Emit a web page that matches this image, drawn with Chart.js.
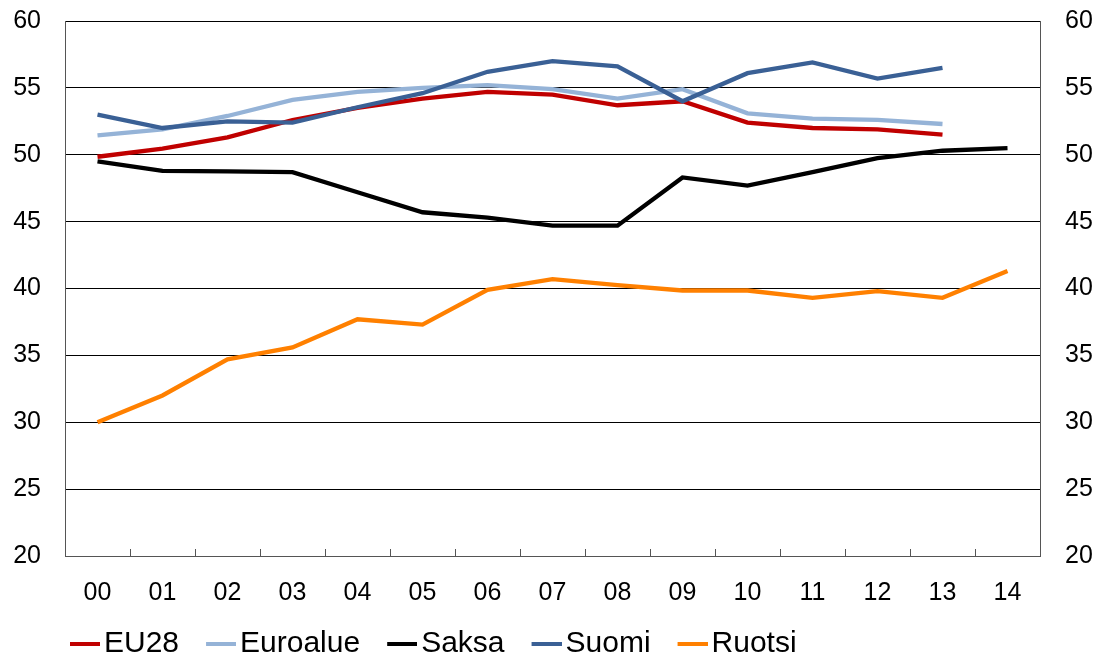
<!DOCTYPE html>
<html>
<head>
<meta charset="utf-8">
<script src="https://cdn.jsdelivr.net/npm/chart.js@4/dist/chart.umd.min.js"></script>
<style>
html,body{margin:0;padding:0;background:#fff;overflow:hidden;}
#wrap{width:1100px;height:656px;position:relative;}
</style>
</head>
<body>
<div id="wrap"><canvas id="c" width="1100" height="656"></canvas></div>
<script>
const categories = ["00","01","02","03","04","05","06","07","08","09","10","11","12","13","14"];
const eu28     = [49.85,50.45,51.3,52.6,53.5,54.2,54.7,54.5,53.7,54.0,52.4,52.0,51.9,51.5,null];
const euroalue = [51.45,51.9,52.9,54.1,54.7,55.0,55.2,54.9,54.2,54.9,53.1,52.7,52.6,52.3,null];
const saksa    = [49.5,48.8,48.75,48.7,47.2,45.7,45.3,44.7,44.7,48.3,47.7,48.7,49.75,50.3,50.5];
const suomi    = [53.0,52.0,52.5,52.4,53.55,54.6,56.2,57.0,56.6,54.0,56.1,56.9,55.7,56.5,null];
const ruotsi   = [30.0,32.0,34.7,35.6,37.7,37.3,39.9,40.7,40.25,39.85,39.85,39.3,39.8,39.3,41.3];
const yTicks   = [20,25,30,35,40,45,50,55,60];

const FONT = "'Liberation Sans', Arial, sans-serif";

function swatch(color) {
  const c = document.createElement('canvas');
  c.width = 60; c.height = 4;
  const g = c.getContext('2d');
  g.fillStyle = color;
  g.fillRect(30, 0, 30, 4);
  return c;
}

const innerTicks = {
  id: 'innerTicks',
  afterLayout(chart) { if (chart.legend) chart.legend.left = 43; },
  afterDatasetsDraw(chart) {
    const x = chart.scales.x, ctx = chart.ctx;
    const step = x.getPixelForValue(1) - x.getPixelForValue(0);
    const bottom = chart.chartArea.bottom;
    ctx.save();
    ctx.strokeStyle = '#555';
    ctx.lineWidth = 1;
    ctx.beginPath();
    for (let i = 1; i < categories.length; i++) {
      const px = Math.round(x.getPixelForValue(i) - step / 2) + 0.5;
      ctx.moveTo(px, bottom - 7);
      ctx.lineTo(px, bottom);
    }
    ctx.stroke();
    ctx.restore();
  }
};

function ds(label, data, color, order) {
  return { label, data, borderColor: color, backgroundColor: color, borderWidth: 4.3,
           pointRadius: 0, pointHoverRadius: 0, pointStyle: swatch(color), order,
           tension: 0, fill: false, spanGaps: false };
}

function noPad(s) { s.paddingTop = 0; s.paddingBottom = 0; }

new Chart(document.getElementById('c'), {
  type: 'line',
  data: {
    labels: categories,
    datasets: [
      ds('EU28', eu28, '#C00000', 5),
      ds('Euroalue', euroalue, '#95B3D7', 4),
      ds('Saksa', saksa, '#000000', 3),
      ds('Suomi', suomi, '#3A6095', 2),
      ds('Ruotsi', ruotsi, '#FF8000', 1)
    ]
  },
  options: {
    responsive: false,
    animation: false,
    events: [],
    layout: { padding: { left: 0, right: 0, top: 21, bottom: -13 } },
    plugins: {
      tooltip: { enabled: false },
      legend: {
        position: 'bottom',
        align: 'start',
        labels: {
          usePointStyle: true,
          pointStyleWidth: 38,
          padding: 8,
          color: '#000',
          font: { family: FONT, size: 30 },
          sort: (a, b) => a.datasetIndex - b.datasetIndex
        }
      }
    },
    scales: {
      x: {
        offset: true,
        afterFit(s) { s.height = 65; s.paddingLeft = 0; s.paddingRight = 0; },
        grid: { display: false, drawTicks: false },
        border: { display: true, color: '#555', width: 1 },
        ticks: { color: '#000', padding: 22.5, font: { family: FONT, size: 25 }, maxRotation: 0, autoSkip: false }
      },
      y: {
        position: 'left',
        min: 20, max: 60,
        afterBuildTicks(s) { s.ticks = yTicks.map(v => ({ value: v })); },
        afterFit(s) { s.width = 65; noPad(s); },
        grid: { color: '#000', lineWidth: 1, drawTicks: false },
        border: { display: true, color: '#555', width: 1 },
        ticks: { color: '#000', padding: 24, font: { family: FONT, size: 25 } }
      },
      y2: {
        position: 'right',
        min: 20, max: 60,
        afterBuildTicks(s) { s.ticks = yTicks.map(v => ({ value: v })); },
        afterFit(s) { s.width = 60; noPad(s); },
        grid: { drawOnChartArea: false, drawTicks: false },
        border: { display: true, color: '#555', width: 1 },
        ticks: { color: '#000', padding: 25, font: { family: FONT, size: 25 } }
      }
    }
  },
  plugins: [innerTicks]
});
</script>
</body>
</html>
